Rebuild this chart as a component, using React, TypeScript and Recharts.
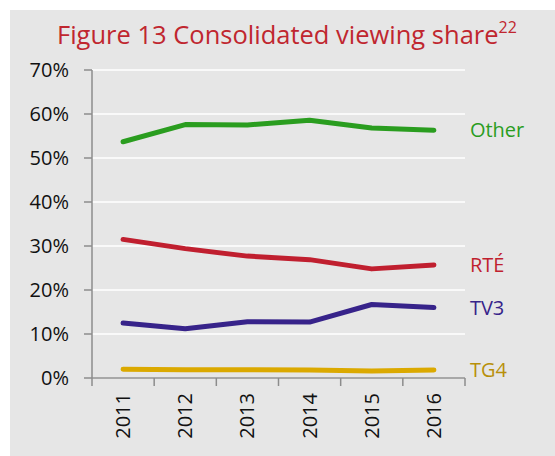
import React from "react";
import { LineChart, Line, XAxis, YAxis, CartesianGrid } from "recharts";

const years = ["2011", "2012", "2013", "2014", "2015", "2016"];
const other = [53.7, 57.6, 57.5, 58.6, 56.8, 56.3];
const rte = [31.5, 29.4, 27.7, 26.9, 24.8, 25.7];
const tv3 = [12.5, 11.2, 12.8, 12.7, 16.7, 16.0];
const tg4 = [2.0, 1.9, 1.9, 1.8, 1.6, 1.8];
const yTicks = [0, 10, 20, 30, 40, 50, 60, 70];
const seriesNames = ["Other", "RTÉ", "TV3", "TG4"];

const data = years.map((y, i) => ({
  year: y,
  Other: other[i],
  "RTÉ": rte[i],
  TV3: tv3[i],
  TG4: tg4[i],
}));

const FONT = "'Open Sans', sans-serif";
const AXIS = "#8c8c8c";
const lineColors: Record<string, string> = {
  Other: "#2a9d1f",
  "RTÉ": "#c01f2f",
  TV3: "#37238a",
  TG4: "#dba900",
};
const labelColors: Record<string, string> = {
  Other: "#2a9d1f",
  "RTÉ": "#c01f2f",
  TV3: "#37238a",
  TG4: "#b8900a",
};

const makeLabel = (name: string) => (props: any) => {
  const { x, y, index } = props;
  if (index !== years.length - 1) return null;
  return (
    <text
      key={name}
      x={x + 36}
      y={y}
      dy="0.35em"
      fill={labelColors[name]}
      fontSize={20}
      fontFamily={FONT}
    >
      {name}
    </text>
  );
};

const XTick = (props: any) => {
  const { x, y, payload, index } = props;
  const half = payload && payload.offset ? payload.offset : 0;
  const isLast = index === years.length - 1;
  return (
    <g>
      <line x1={x - half} x2={x - half} y1={y} y2={y + 8} stroke={AXIS} strokeWidth={1.5} />
      {isLast && (
        <line x1={x + half} x2={x + half} y1={y} y2={y + 8} stroke={AXIS} strokeWidth={1.5} />
      )}
      <g transform={`translate(${x},${y + 15})`}>
        <text
          transform="rotate(-90)"
          x={0}
          y={0}
          dy="0.35em"
          textAnchor="end"
          fontSize={20}
          fontFamily={FONT}
          fill="#111"
        >
          {payload.value}
        </text>
      </g>
    </g>
  );
};

const YTick = (props: any) => {
  const { x, y, payload } = props;
  return (
    <text
      x={x}
      y={y}
      dy="0.35em"
      textAnchor="end"
      fontSize={20}
      fontFamily={FONT}
      fill="#111"
    >
      {`${payload.value}%`}
    </text>
  );
};

export default function App() {
  return (
    <div style={{ position: "absolute", left: 0, top: 0, width: 555, height: 456, background: "#fff" }}>
      <div
        style={{
          position: "absolute",
          left: 10,
          top: 10,
          width: 545,
          height: 446,
          background: "#e6e6e6",
        }}
      >
        <div
          style={{
            position: "absolute",
            left: 47,
            top: 6,
            whiteSpace: "nowrap",
            fontFamily: FONT,
            fontSize: 25.5,
            lineHeight: "36px",
            color: "#c0262f",
          }}
        >
          Figure 13 Consolidated viewing share
          <sup style={{ fontSize: 16, verticalAlign: "top", lineHeight: "22px" }}>22</sup>
        </div>
        <div style={{ position: "absolute", left: 0, top: 0 }}>
          <LineChart
            width={545}
            height={446}
            data={data}
            margin={{ top: 60, right: 90, left: 0, bottom: 0 }}
          >
            <CartesianGrid vertical={false} stroke="#ffffff" strokeWidth={1.5} />
            <XAxis
              dataKey="year"
              scale="band"
              axisLine={{ stroke: AXIS, strokeWidth: 1.5 }}
              tickLine={false}
              tickSize={0}
              tickMargin={0}
              tick={<XTick />}
              height={78}
              interval={0}
            />
            <YAxis
              domain={[0, 70]}
              ticks={yTicks}
              tickSize={8}
              tickMargin={15}
              width={82}
              stroke={AXIS}
              strokeWidth={1.5}
              tick={<YTick />}
              interval={0}
            />
            {seriesNames.map((n) => (
              <Line
                key={n}
                type="linear"
                dataKey={n}
                stroke={lineColors[n]}
                strokeWidth={5}
                dot={false}
                strokeLinecap="round"
                strokeLinejoin="round"
                isAnimationActive={false}
                label={makeLabel(n)}
              />
            ))}
          </LineChart>
        </div>
      </div>
    </div>
  );
}
